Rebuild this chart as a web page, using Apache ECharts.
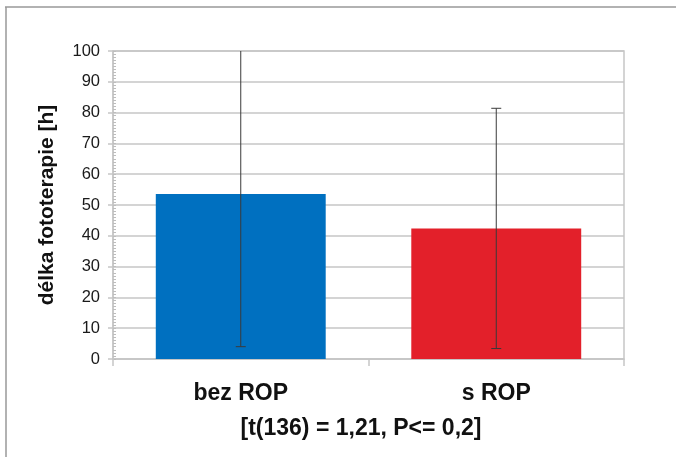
<!DOCTYPE html>
<html>
<head>
<meta charset="utf-8">
<script src="https://cdn.jsdelivr.net/npm/echarts@6/dist/echarts.min.js"></script>
<style>
  html, body { margin: 0; padding: 0; background: #fff; }
  #chart { width: 676px; height: 457px; }
</style>
</head>
<body>
<div id="chart"></div>
<script>
// data
const categories = ['bez ROP', 's ROP'];
const means = [53.6, 42.4];
const sds = [49.6, 39.0];
const barColors = ['#0070C0', '#E3202A'];
const yTicks = [0, 10, 20, 30, 40, 50, 60, 70, 80, 90, 100];

const FONT = '"Liberation Sans", Arial, sans-serif';
const GRIDCOL = '#c6c6c6';

// error bar rows: [category index, low, high]
let errData = means.map(function (m, i) {
  return [i, m - sds[i], m + sds[i]];
});

let chart = echarts.init(document.getElementById('chart'), null, { renderer: 'canvas' });

let option = {
  backgroundColor: '#fff',
  animation: false,
  grid: {
    left: 113, right: 52, top: 51, bottom: 98,
    show: true, borderColor: GRIDCOL, borderWidth: 1.5
  },
  graphic: [
    // frame round the whole chart (only top and left edge are visible)
    { type: 'line', shape: { x1: 5, y1: 7, x2: 680, y2: 7 }, style: { stroke: '#999', lineWidth: 1.5 } },
    { type: 'line', shape: { x1: 6, y1: 7, x2: 6, y2: 460 }, style: { stroke: '#999', lineWidth: 1.5 } },
    {
      type: 'text', x: 361, y: 429,
      style: {
        text: '[t(136) = 1,21, P<= 0,2]',
        font: 'bold 23px ' + FONT, fill: '#111',
        textAlign: 'center', textVerticalAlign: 'middle'
      }
    }
  ],
  xAxis: {
    type: 'category',
    data: categories,
    boundaryGap: true,
    axisLine: { lineStyle: { color: GRIDCOL, width: 1.5 } },
    axisTick: { show: true, length: 7, alignWithLabel: false, lineStyle: { color: GRIDCOL, width: 1.5 } },
    axisLabel: { margin: 23, fontFamily: FONT, fontSize: 23, fontWeight: 'bold', color: '#111' }
  },
  yAxis: [{
    type: 'value',
    min: yTicks[0], max: yTicks[yTicks.length - 1], interval: 10,
    name: 'délka fototerapie [h]',
    nameLocation: 'middle',
    nameGap: 55,
    nameTextStyle: { fontFamily: FONT, fontSize: 21, fontWeight: 'bold', color: '#111' },
    axisLine: { show: true, lineStyle: { color: GRIDCOL, width: 1.5 } },
    axisTick: { show: true, length: 5, lineStyle: { color: GRIDCOL, width: 1.5 } },
    axisLabel: { margin: 13, fontFamily: FONT, fontSize: 16.5, color: '#1a1a1a' },
    splitLine: { show: true, lineStyle: { color: GRIDCOL, width: 1.5 } }
  }, {
    // second axis only for the small inside ticks
    type: 'value',
    position: 'left',
    min: 0, max: 100, interval: 1,
    axisLine: { show: false },
    axisTick: { show: true, inside: true, length: 3, lineStyle: { color: '#bdbdbd', width: 1 } },
    axisLabel: { show: false },
    splitLine: { show: false }
  }],
  series: [{
    type: 'bar',
    barWidth: '66.5%',
    data: means.map(function (v, i) {
      return { value: v, itemStyle: { color: barColors[i] } };
    }),
    z: 2
  }, {
    type: 'custom',
    clip: true,
    z: 5,
    data: errData,
    renderItem: function (params, api) {
      let x = api.value(0);
      let lo = api.coord([x, api.value(1)]);
      let hi = api.coord([x, api.value(2)]);
      let cap = 5;
      let st = { stroke: '#3a3a3a', lineWidth: 1 };
      return {
        type: 'group',
        children: [
          { type: 'line', shape: { x1: lo[0], y1: lo[1], x2: hi[0], y2: hi[1] }, style: st },
          { type: 'line', shape: { x1: lo[0] - cap, y1: lo[1], x2: lo[0] + cap, y2: lo[1] }, style: st },
          { type: 'line', shape: { x1: hi[0] - cap, y1: hi[1], x2: hi[0] + cap, y2: hi[1] }, style: st }
        ]
      };
    }
  }]
};

chart.setOption(option);
</script>
</body>
</html>
